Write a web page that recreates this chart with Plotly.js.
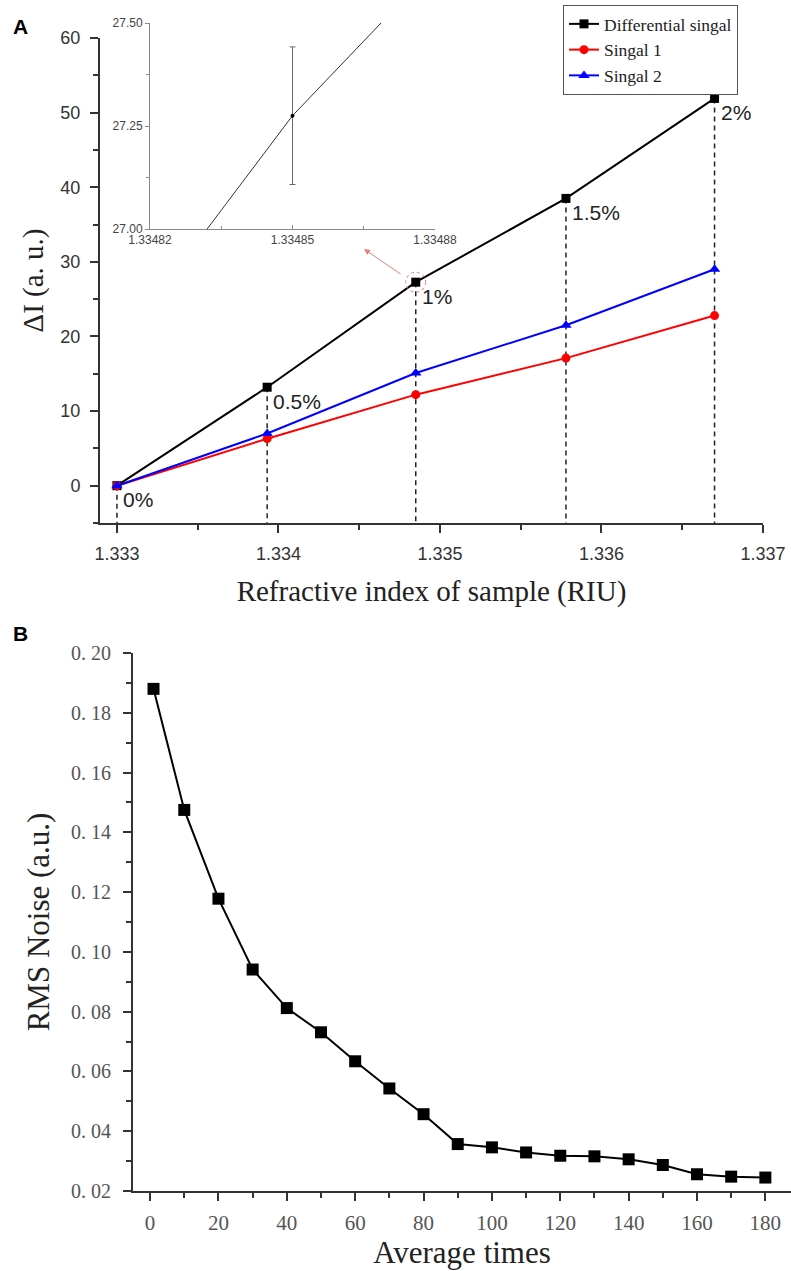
<!DOCTYPE html>
<html>
<head>
<meta charset="utf-8">
<script src="https://cdn.plot.ly/plotly-3.0.1.min.js"></script>
<style>html,body{margin:0;padding:0;background:#fff;}#chart{width:791px;height:1271px;}</style>
</head>
<body>
<div id="chart"></div>
<script>
// ---- Panel A data ----
const riX = [1.333, 1.33393, 1.33485, 1.33578, 1.3367];
const diffY = [0, 13.2, 27.275, 38.5, 51.9];
const sig1Y = [0, 6.3, 12.2, 17.1, 22.8];
const sig2Y = [0, 7.0, 15.1, 21.5, 29.0];
const pctLabels = ['0%', '0.5%', '1%', '1.5%', '2%'];
const insetErr = [0, 0, 0.167, 0, 0];
// ---- Panel B data ----
const avgTimes = [1, 10, 20, 30, 40, 50, 60, 70, 80, 90, 100, 110, 120, 130, 140, 150, 160, 170, 180];
const rmsNoise = [0.188, 0.1475, 0.1178, 0.0941, 0.0812, 0.0731, 0.0634, 0.0543, 0.0457, 0.0357, 0.0346, 0.0329, 0.0318, 0.0316, 0.0306, 0.0287, 0.0256, 0.0248, 0.0245];
const bTickVals = [0.02, 0.04, 0.06, 0.08, 0.10, 0.12, 0.14, 0.16, 0.18, 0.20];
const bTickText = ['0. 02', '0. 04', '0. 06', '0. 08', '0. 10', '0. 12', '0. 14', '0. 16', '0. 18', '0. 20'];

const W = 791, H = 1271;
const yMinA = -5;
const sans = 'Liberation Sans, Arial, sans-serif';
const serif = 'Liberation Serif, Times New Roman, serif';

// dashed drop lines built from data
const dropX = [], dropY = [];
riX.forEach((x, i) => { dropX.push(x, x, null); dropY.push(diffY[i], yMinA, null); });

const traces = [
  {x: dropX, y: dropY, xaxis: 'x', yaxis: 'y', mode: 'lines', showlegend: false, hoverinfo: 'skip',
   line: {color: '#222', width: 1.5, dash: '5px,4px'}},
  {x: riX, y: diffY, name: 'Differential singal', xaxis: 'x', yaxis: 'y', mode: 'lines+markers',
   line: {color: '#000', width: 2}, marker: {symbol: 'square', size: 9, color: '#000'}},
  {x: riX, y: sig1Y, name: 'Singal 1', xaxis: 'x', yaxis: 'y', mode: 'lines+markers',
   line: {color: '#f00', width: 2}, marker: {symbol: 'circle', size: 9, color: '#f00'}},
  {x: riX, y: sig2Y, name: 'Singal 2', xaxis: 'x', yaxis: 'y', mode: 'lines+markers',
   line: {color: '#00f', width: 2}, marker: {symbol: 'triangle-up', size: 10, color: '#00f'}},
  // inset: zoom on differential curve
  {x: riX, y: diffY, xaxis: 'x3', yaxis: 'y3', mode: 'lines+markers', showlegend: false,
   line: {color: '#333', width: 1}, marker: {size: 4, color: '#000'},
   error_y: {type: 'data', array: insetErr, visible: true, color: '#666', thickness: 1, width: 3}},
  // panel B
  {x: avgTimes, y: rmsNoise, xaxis: 'x2', yaxis: 'y2', mode: 'lines+markers', showlegend: false,
   line: {color: '#000', width: 2}, marker: {symbol: 'square', size: 12, color: '#000'}}
];

const annotations = [
  {text: '<b>A</b>', xref: 'paper', yref: 'paper', x: 20 / W, y: 1 - 26 / H, xanchor: 'center', yanchor: 'middle',
   showarrow: false, font: {family: sans, size: 21, color: '#000'}},
  {text: '<b>B</b>', xref: 'paper', yref: 'paper', x: 20 / W, y: 1 - 633 / H, xanchor: 'center', yanchor: 'middle',
   showarrow: false, font: {family: sans, size: 21, color: '#000'}},
  // red arrow from circled point towards inset
  {text: '', xref: 'paper', yref: 'paper', x: 364 / W, y: 1 - 249 / H, ax: 38, ay: 26,
   showarrow: true, arrowhead: 2, arrowsize: 1.2, arrowwidth: 1, arrowcolor: '#e87a7a'}
];
riX.forEach((x, i) => {
  annotations.push({text: pctLabels[i], xref: 'x', yref: 'y', x: x, y: diffY[i], xanchor: 'left', yanchor: 'middle',
    xshift: 4, yshift: -14, showarrow: false, font: {family: sans, size: 21, color: '#222'}});
});

const axLine = {showline: true, linecolor: '#333', linewidth: 2, ticks: 'outside', tickcolor: '#333',
  tickwidth: 2, ticklen: 8, showgrid: false, zeroline: false, automargin: false};

const layout = {
  width: W, height: H, margin: {l: 0, r: 0, t: 0, b: 0}, paper_bgcolor: '#fff', plot_bgcolor: 'rgba(0,0,0,0)',
  showlegend: true,
  legend: {x: 563 / W, y: 1 - 5 / H, xanchor: 'left', yanchor: 'top', bordercolor: '#555', borderwidth: 1,
    bgcolor: '#fff', font: {family: serif, size: 17.5, color: '#222'}, tracegroupgap: 0},
  xaxis: Object.assign({}, axLine, {domain: [100 / W, 763 / W], range: [1.332895, 1.337], anchor: 'y',
    tick0: 1.333, dtick: 0.001, tickformat: '.3f', ticklabelstandoff: 5,
    minor: {dtick: 0.0005, ticks: 'outside', ticklen: 5, tickwidth: 2, tickcolor: '#333'},
    tickfont: {family: sans, size: 18, color: '#333'},
    title: {text: 'Refractive index of sample (RIU)', standoff: 18, font: {family: serif, size: 29, color: '#222'}}}),
  yaxis: Object.assign({}, axLine, {domain: [1 - 523 / H, 1 - 38 / H], range: [yMinA, 60], anchor: 'x',
    tick0: 0, dtick: 10, ticklabelstandoff: 6,
    minor: {dtick: 5, ticks: 'outside', ticklen: 5, tickwidth: 2, tickcolor: '#333'},
    tickfont: {family: sans, size: 18, color: '#333'},
    title: {text: 'ΔI (a. u.)', standoff: 8, font: {family: serif, size: 29, color: '#222'}}}),
  xaxis3: {domain: [150 / W, 435 / W], range: [1.33482, 1.33488], anchor: 'y3', showline: true, linecolor: '#888',
    linewidth: 1, ticks: 'inside', ticklen: 4, tickcolor: '#888', tickvals: [1.33482, 1.33485, 1.33488],
    tickformat: '.5f', minor: {tickvals: [1.334835, 1.334865], ticks: 'inside', ticklen: 3, tickcolor: '#888'},
    showgrid: false, zeroline: false, automargin: false, tickfont: {family: sans, size: 12, color: '#444'}},
  yaxis3: {domain: [1 - 229 / H, 1 - 23 / H], range: [27.0, 27.5], anchor: 'x3', showline: true, linecolor: '#888',
    linewidth: 1, ticks: 'outside', ticklen: 4, tickcolor: '#888', tickvals: [27.0, 27.25, 27.5],
    tickformat: '.2f', minor: {tickvals: [27.125, 27.375], ticks: 'outside', ticklen: 3, tickcolor: '#888'},
    showgrid: false, zeroline: false, automargin: false, tickfont: {family: sans, size: 12, color: '#444'}},
  xaxis2: Object.assign({}, axLine, {domain: [133 / W, 1], range: [-5, 187.5], anchor: 'y2',
    tick0: 0, dtick: 20, ticklabelstandoff: 4,
    minor: {dtick: 10, ticks: 'outside', ticklen: 5, tickwidth: 2, tickcolor: '#333'},
    tickfont: {family: serif, size: 21, color: '#555'},
    title: {text: 'Average times', standoff: 2, font: {family: serif, size: 31, color: '#222'}}}),
  yaxis2: Object.assign({}, axLine, {domain: [1 - 1191 / H, 1 - 653 / H], range: [0.02, 0.20], anchor: 'x2',
    tickvals: bTickVals, ticktext: bTickText, ticklabelstandoff: 8,
    minor: {dtick: 0.01, ticks: 'outside', ticklen: 5, tickwidth: 2, tickcolor: '#333'},
    tickfont: {family: serif, size: 20, color: '#555'},
    title: {text: 'RMS Noise (a.u.)', standoff: 12, font: {family: serif, size: 31, color: '#222'}}}),
  annotations: annotations,
  shapes: [
    {type: 'circle', xref: 'x', yref: 'y', xsizemode: 'pixel', ysizemode: 'pixel',
     xanchor: riX[2], yanchor: diffY[2], x0: -10, x1: 10, y0: -10, y1: 10,
     line: {color: '#e87a7a', width: 1, dash: 'dot'}}
  ]
};

Plotly.newPlot('chart', traces, layout, {displayModeBar: false, staticPlot: true});
</script>
</body>
</html>
